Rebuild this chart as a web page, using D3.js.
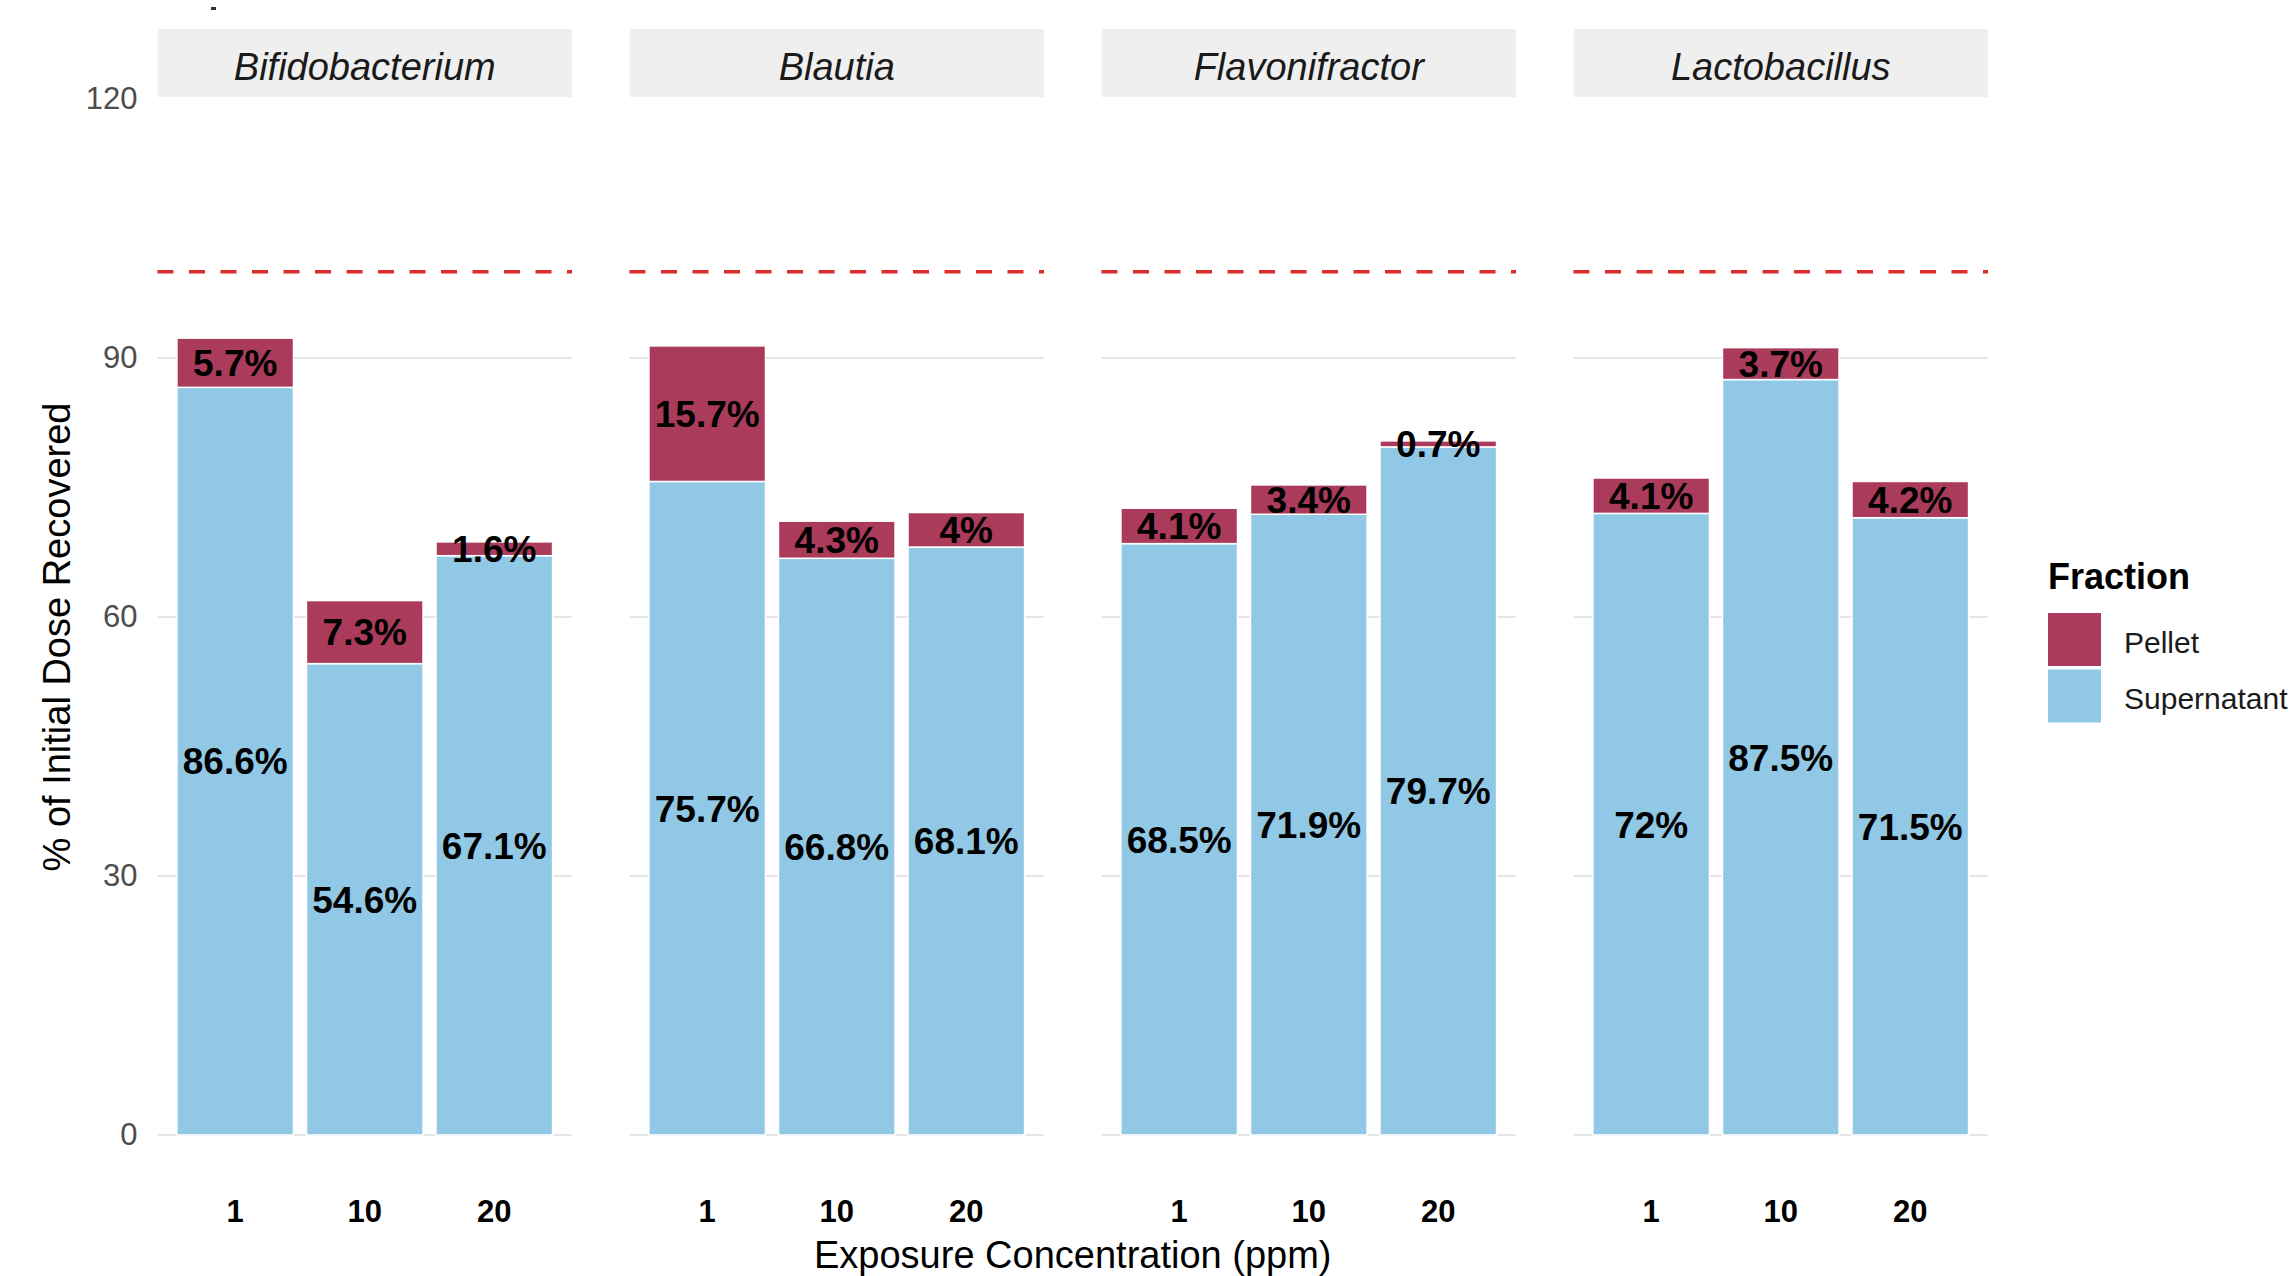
<!DOCTYPE html>
<html>
<head>
<meta charset="utf-8">
<script src="https://cdn.jsdelivr.net/npm/d3@7"></script>
<style>
  body { margin: 0; background: #fff; }
  svg { display: block; font-family: "Liberation Sans", Arial, sans-serif; }
</style>
</head>
<body>
<div id="chart-area"></div>
<script>
// Data
var genera = ["Bifidobacterium", "Blautia", "Flavonifractor", "Lactobacillus"];
var concentrations = ["1", "10", "20"];
var supernatant = [
  [86.6, 54.6, 67.1],
  [75.7, 66.8, 68.1],
  [68.5, 71.9, 79.7],
  [72, 87.5, 71.5]
];
var pellet = [
  [5.7, 7.3, 1.6],
  [15.7, 4.3, 4],
  [4.1, 3.4, 0.7],
  [4.1, 3.7, 4.2]
];
var fractions = ["Pellet", "Supernatant"];
var yTicks = [0, 30, 60, 90, 120];
var referenceLine = 100;

var colors = {Pellet: "#AA3B5B", Supernatant: "#91C8E5"};

var width = 2296, height = 1276;

var svg = d3.select("#chart-area").append("svg")
    .attr("width", width)
    .attr("height", height);

// Scales
var facet = d3.scaleBand()
    .domain(genera)
    .range([157.5, 1988])
    .paddingInner(57.5 / 472);

var x = d3.scaleBand()
    .domain(concentrations)
    .range([0, facet.bandwidth()])
    .paddingInner(0.1)
    .paddingOuter(0.15);

var y = d3.scaleLinear()
    .domain([0, 120])
    .range([1135, 99]);

// build stacked rows
function rowsFor(gi) {
  return concentrations.map(function(c, ci) {
    var s = supernatant[gi][ci], p = pellet[gi][ci];
    return [
      {conc: c, fraction: "Supernatant", y0: 0, y1: s, value: s},
      {conc: c, fraction: "Pellet", y0: s, y1: s + p, value: p}
    ];
  }).flat();
}

// y axis labels
var yAxis = d3.axisLeft(y).tickValues(yTicks).tickSize(0).tickPadding(20);
svg.append("g")
    .attr("transform", "translate(" + facet(genera[0]) + ",0)")
    .call(yAxis)
    .call(function(g) { g.select(".domain").remove(); })
    .selectAll("text")
    .attr("font-size", 31)
    .attr("font-family", "Liberation Sans, Arial, sans-serif")
    .attr("fill", "#4D4D4D");

genera.forEach(function(genus, gi) {
  var panel = svg.append("g")
      .attr("transform", "translate(" + facet(genus) + ",0)");

  // strip
  panel.append("rect")
      .attr("x", 0).attr("y", 29)
      .attr("width", facet.bandwidth()).attr("height", 68)
      .attr("fill", "#EFEFEF");
  panel.append("text")
      .attr("x", facet.bandwidth() / 2).attr("y", 80)
      .attr("text-anchor", "middle")
      .attr("font-size", 38)
      .attr("font-style", "italic")
      .attr("fill", "#1A1A1A")
      .text(genus);

  // grid
  panel.selectAll(".grid")
      .data(yTicks.filter(function(t) { return t < 120; }))
      .enter().append("line")
      .attr("x1", 0).attr("x2", facet.bandwidth())
      .attr("y1", d => y(d)).attr("y2", d => y(d))
      .attr("stroke", "#E5E5E5")
      .attr("stroke-width", 2);

  // reference line
  panel.append("line")
      .attr("x1", 0).attr("x2", facet.bandwidth())
      .attr("y1", y(referenceLine)).attr("y2", y(referenceLine))
      .attr("stroke", "#DC2B2B")
      .attr("stroke-width", 3.5)
      .attr("stroke-dasharray", "16,15.5");

  var rows = rowsFor(gi);

  panel.selectAll(".bar")
      .data(rows)
      .enter().append("rect")
      .attr("x", d => x(d.conc))
      .attr("width", x.bandwidth())
      .attr("y", d => y(d.y1))
      .attr("height", d => y(d.y0) - y(d.y1))
      .attr("fill", d => colors[d.fraction])
      .attr("stroke", "#fff")
      .attr("stroke-width", 1.5);

  panel.selectAll(".lab")
      .data(rows)
      .enter().append("text")
      .attr("x", d => x(d.conc) + x.bandwidth() / 2)
      .attr("y", d => y((d.y0 + d.y1) / 2))
      .attr("dy", "0.36em")
      .attr("text-anchor", "middle")
      .attr("font-size", 37)
      .attr("font-weight", "bold")
      .attr("fill", "#000")
      .text(d => d.value + "%");

  // x axis labels
  var xAxis = d3.axisBottom(x).tickSize(0).tickPadding(65);
  panel.append("g")
      .attr("transform", "translate(0," + y(0) + ")")
      .call(xAxis)
      .call(function(g) { g.select(".domain").remove(); })
      .selectAll("text")
      .attr("font-size", 31)
      .attr("font-weight", "bold")
      .attr("font-family", "Liberation Sans, Arial, sans-serif")
      .attr("fill", "#000");
});

// axis titles
svg.append("text")
    .attr("x", (facet.range()[0] + facet.range()[1]) / 2)
    .attr("y", 1268)
    .attr("text-anchor", "middle")
    .attr("font-size", 38)
    .attr("fill", "#000")
    .text("Exposure Concentration (ppm)");

svg.append("text")
    .attr("transform", "translate(70,637) rotate(-90)")
    .attr("text-anchor", "middle")
    .attr("font-size", 38)
    .attr("fill", "#000")
    .text("% of Initial Dose Recovered");

// legend
var legend = svg.append("g").attr("transform", "translate(2048,0)");
legend.append("text")
    .attr("x", 0).attr("y", 589)
    .attr("font-size", 36)
    .attr("font-weight", "bold")
    .attr("fill", "#000")
    .text("Fraction");

legend.selectAll(".key")
    .data(fractions)
    .enter().append("rect")
    .attr("x", 0)
    .attr("y", (d, i) => 613 + i * 56.5)
    .attr("width", 53).attr("height", 53)
    .attr("fill", d => colors[d]);

legend.selectAll(".klab")
    .data(fractions)
    .enter().append("text")
    .attr("x", 76)
    .attr("y", (d, i) => 653 + i * 55.5)
    .attr("font-size", 30)
    .attr("fill", "#1A1A1A")
    .text(d => d);

// small stray mark at top of the original figure
svg.append("rect")
    .attr("x", 211).attr("y", 7)
    .attr("width", 5).attr("height", 3)
    .attr("fill", "#333");
</script>
</body>
</html>
